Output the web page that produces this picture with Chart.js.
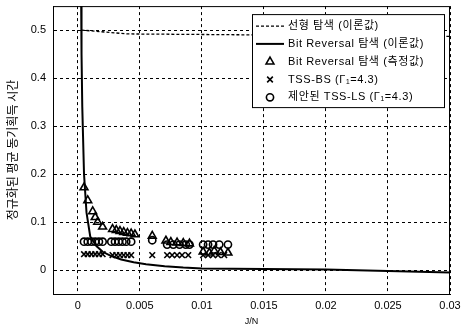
<!DOCTYPE html>
<html>
<head>
<meta charset="utf-8">
<script src="https://cdn.jsdelivr.net/npm/chart.js@4/dist/chart.umd.min.js"></script>
<style>
  html, body { margin: 0; padding: 0; background: #fff; }
  #wrap { width: 466px; height: 327px; }
</style>
</head>
<body>
<div id="wrap"><canvas id="c" width="466" height="327"></canvas></div>
<script>
// Axis ticks
const xTicks = [0, 0.005, 0.01, 0.015, 0.02, 0.025, 0.03];
const xTickLabels = ['0', '0.005', '0.01', '0.015', '0.02', '0.025', '0.03'];
const yTicks = [0, 0.1, 0.2, 0.3, 0.4, 0.5];
const yTickLabels = ['0', '0.1', '0.2', '0.3', '0.4', '0.5'];

// Linear search (theory)
const linearX = [0.0003, 0.004, 0.03];
const linearY = [0.5, 0.492, 0.487];

// Bit reversal search (theory)
const bitTheoryX = [0.00026, 0.0003, 0.00036, 0.00042, 0.0005, 0.0007, 0.001, 0.0015, 0.002, 0.0027, 0.0035, 0.0045, 0.0055, 0.007, 0.0085, 0.01, 0.015, 0.02, 0.025, 0.03];
const bitTheoryY = [0.6, 0.45, 0.34, 0.28, 0.2, 0.12, 0.07, 0.05, 0.038, 0.029, 0.022, 0.016, 0.012, 0.008, 0.005, 0.003, 0.002, 0.001, -0.002, -0.005];

// Bit reversal search (measured)
const bitMeasX = [0.0005, 0.0008, 0.0012, 0.0014, 0.0016, 0.002,
                  0.0028, 0.0031, 0.0034, 0.0037, 0.004, 0.0043, 0.0046,
                  0.006,
                  0.0071, 0.0075, 0.008, 0.0085, 0.009,
                  0.0101, 0.0106, 0.011, 0.0115, 0.0121];
const bitMeasY = [0.172, 0.145, 0.122, 0.11, 0.1, 0.09,
                  0.085, 0.083, 0.081, 0.079, 0.077, 0.076, 0.074,
                  0.071,
                  0.061, 0.058, 0.057, 0.056, 0.055,
                  0.038, 0.036, 0.04, 0.037, 0.036];

// TSS-BS
const tssBsX = [0.0005, 0.0008, 0.0011, 0.0014, 0.0017, 0.002,
                0.0028, 0.0031, 0.0034, 0.0037, 0.004, 0.0043,
                0.006,
                0.0072, 0.0076, 0.008, 0.0084, 0.0089,
                0.0101, 0.0105, 0.0109, 0.0113, 0.0118];
const tssBsY = [0.033, 0.033, 0.033, 0.033, 0.033, 0.033,
                0.031, 0.031, 0.031, 0.031, 0.031, 0.031,
                0.031,
                0.031, 0.031, 0.031, 0.031, 0.031,
                0.031, 0.031, 0.031, 0.031, 0.031];

// Proposed TSS-LS
const tssLsX = [0.0005, 0.0008, 0.0011, 0.0014, 0.0017, 0.002,
                0.0027, 0.003, 0.0033, 0.0036, 0.0039, 0.0043,
                0.006,
                0.0072, 0.0077, 0.0082, 0.0087, 0.009,
                0.0101, 0.0105, 0.0109, 0.0114, 0.0121];
const tssLsY = [0.059, 0.059, 0.059, 0.059, 0.059, 0.059,
                0.059, 0.059, 0.059, 0.059, 0.059, 0.059,
                0.062,
                0.053, 0.053, 0.053, 0.053, 0.053,
                0.053, 0.053, 0.053, 0.053, 0.053];

const legendLabels = [
  '선형 탐색 (이론값)',
  'Bit Reversal 탐색 (이론값)',
  'Bit Reversal 탐색 (측정값)',
  'TSS-BS (Γ₁=4.3)',
  '제안된 TSS-LS (Γ₁=4.3)'
];
const yTitle = '정규화된 평균 동기획득 시간';
const xTitle = 'J/N';

const pts = (xs, ys) => xs.map((x, i) => ({ x, y: ys[i] }));
const FONT = '"Liberation Sans", Arial, "Noto Sans CJK KR", sans-serif';
const KFONT = '"Liberation Sans", "Noto Sans CJK KR", sans-serif';

// Frame around the plotting area
const framePlugin = {
  id: 'frame',
  afterDraw(chart) {
    const { ctx, chartArea: a } = chart;
    ctx.save();
    ctx.strokeStyle = '#000';
    ctx.lineWidth = 1;
    ctx.setLineDash([]);
    ctx.strokeRect(a.left + 0.5, a.top + 0.5, a.right - a.left - 1, a.bottom - a.top);
    ctx.restore();
  }
};

// Boxed legend inside the top-right of the plot
const boxLegend = {
  id: 'boxLegend',
  afterDraw(chart) {
    const { ctx, chartArea: a } = chart;
    const w = 192, h = 93;
    const x0 = a.right - w - 6, y0 = a.top + 8;
    ctx.save();
    ctx.fillStyle = '#fff';
    ctx.fillRect(x0, y0, w, h);
    ctx.strokeStyle = '#000';
    ctx.lineWidth = 1;
    ctx.strokeRect(x0 + 0.5, y0 + 0.5, w, h);
    const rowH = 17.8;
    chart.data.datasets.forEach((ds, i) => {
      const cy = y0 + 12 + i * rowH;
      const sx = x0 + 4, ex = x0 + 32, mx = (sx + ex) / 2;
      if (ds.showLine) {
        ctx.beginPath();
        ctx.setLineDash(ds.borderDash || []);
        ctx.lineWidth = ds.borderWidth;
        ctx.strokeStyle = ds.borderColor;
        ctx.moveTo(sx, cy); ctx.lineTo(ex, cy);
        ctx.stroke();
        ctx.setLineDash([]);
      } else {
        ctx.setLineDash([]);
        ctx.fillStyle = 'rgba(0,0,0,0)';
        ctx.strokeStyle = '#000';
        ctx.lineWidth = ds.pointBorderWidth;
        Chart.helpers.drawPoint(ctx, {
          pointStyle: ds.pointStyle, radius: ds.pointRadius,
          borderWidth: ds.pointBorderWidth, rotation: 0
        }, mx, cy);
      }
      ctx.fillStyle = '#000';
      ctx.font = '11px ' + KFONT;
      ctx.letterSpacing = '0.6px';
      ctx.textBaseline = 'middle';
      ctx.textAlign = 'left';
      ctx.fillText(legendLabels[i], x0 + 36, cy);
    });
    ctx.restore();
  }
};

const markerCommon = {
  showLine: false,
  borderColor: '#000',
  backgroundColor: 'rgba(0,0,0,0)',
  pointBorderColor: '#000',
  pointBackgroundColor: 'rgba(0,0,0,0)',
  pointBorderWidth: 1.6
};

new Chart(document.getElementById('c'), {
  type: 'scatter',
  data: {
    datasets: [
      {
        label: legendLabels[0],
        data: pts(linearX, linearY),
        showLine: true,
        borderColor: '#000',
        borderWidth: 1.3,
        borderDash: [3, 2],
        pointRadius: 0,
        fill: false
      },
      {
        label: legendLabels[1],
        data: pts(bitTheoryX, bitTheoryY),
        showLine: true,
        borderColor: '#000',
        borderWidth: 2,
        pointRadius: 0,
        tension: 0,
        fill: false
      },
      Object.assign({
        label: legendLabels[2],
        data: pts(bitMeasX, bitMeasY),
        pointStyle: 'triangle',
        pointRadius: 4.5
      }, markerCommon),
      Object.assign({
        label: legendLabels[3],
        data: pts(tssBsX, tssBsY),
        pointStyle: 'crossRot',
        pointRadius: 4
      }, markerCommon),
      Object.assign({
        label: legendLabels[4],
        data: pts(tssLsX, tssLsY),
        pointStyle: 'circle',
        pointRadius: 3.6
      }, markerCommon)
    ]
  },
  options: {
    responsive: false,
    animation: false,
    devicePixelRatio: 1,
    layout: { padding: { top: 5, right: 16, left: 0, bottom: 0 } },
    plugins: {
      legend: { display: false },
      tooltip: { enabled: false }
    },
    scales: {
      x: {
        type: 'linear',
        min: -0.002,
        max: 0.03,
        afterBuildTicks: s => { s.ticks = xTicks.map(v => ({ value: v })); },
        afterFit: s => { s.height = 33; s.paddingLeft = 0; s.paddingRight = 0; },
        ticks: {
          color: '#000',
          font: { family: FONT, size: 11 },
          padding: 5,
          maxRotation: 0,
          autoSkip: false,
          callback: v => { const i = xTicks.findIndex(t => Math.abs(t - v) < 1e-9); return i >= 0 ? xTickLabels[i] : ''; }
        },
        grid: { color: '#000', lineWidth: 1, drawTicks: false },
        border: { display: true, color: '#000', width: 1, dash: [3, 3] },
        title: {
          display: true, text: xTitle, color: '#000',
          font: { family: FONT, size: 9 }, padding: { top: 0, bottom: 0 }
        }
      },
      y: {
        type: 'linear',
        min: -0.05,
        max: 0.55,
        afterBuildTicks: s => { s.ticks = yTicks.map(v => ({ value: v })); },
        afterFit: s => { s.width = 53; s.paddingTop = 0; s.paddingBottom = 0; },
        ticks: {
          color: '#000',
          font: { family: FONT, size: 11 },
          padding: 7,
          autoSkip: false,
          callback: v => { const i = yTicks.findIndex(t => Math.abs(t - v) < 1e-9); return i >= 0 ? yTickLabels[i] : ''; }
        },
        grid: { color: '#000', lineWidth: 1, drawTicks: false },
        border: { display: true, color: '#000', width: 1, dash: [3, 3] },
        title: {
          display: true, text: yTitle, color: '#000',
          font: { family: '"Noto Sans CJK KR", sans-serif', size: 12 }, padding: { top: 5, bottom: 0 }
        }
      }
    }
  },
  plugins: [framePlugin, boxLegend]
});
</script>
</body>
</html>
